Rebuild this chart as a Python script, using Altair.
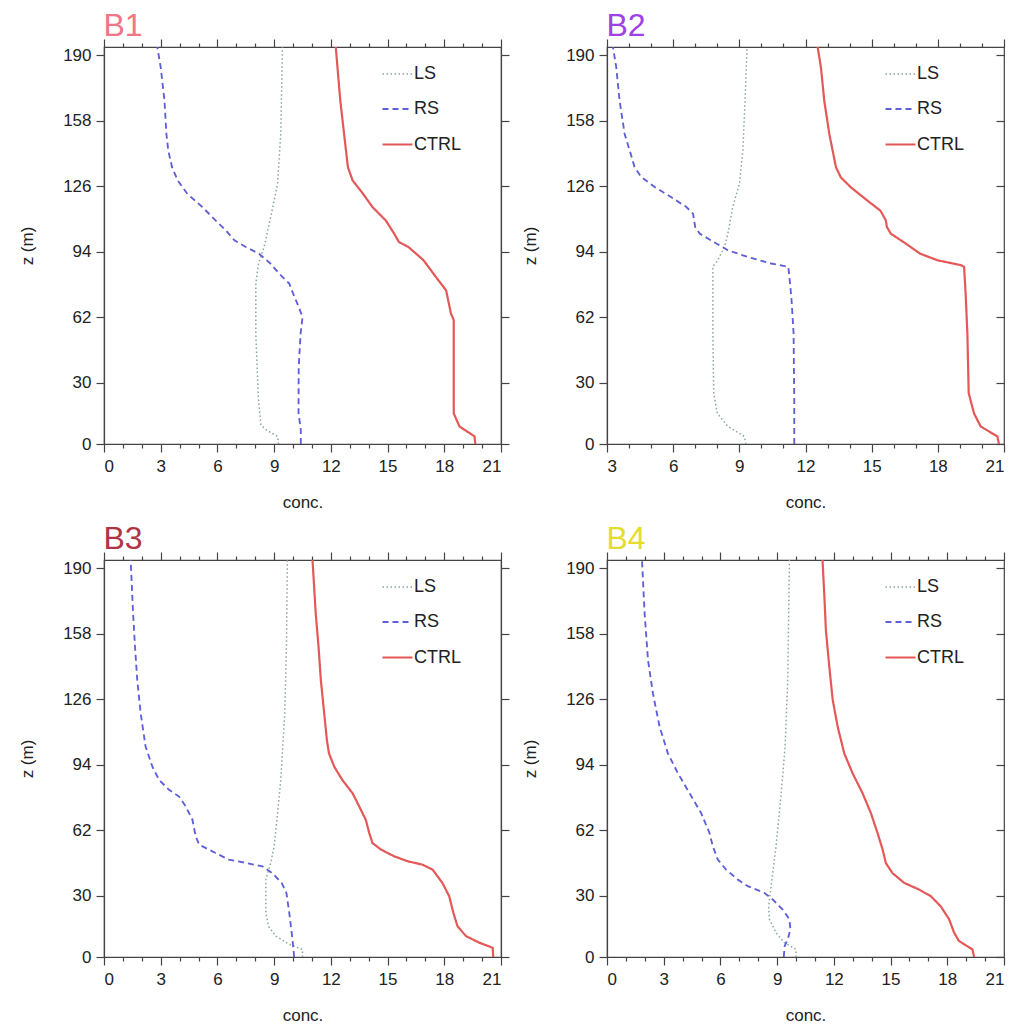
import altair as alt
import pandas as pd

SERIES = ["LS", "RS", "CTRL"]
COLORS = ["#86a89a", "#5f5fd8", "#e45858"]
DASHES = [[1.5, 2.5], [6, 4], [1, 0]]
WIDTHS = [1.5, 2.2, 2.0]
YTICKS = [0, 30, 62, 94, 126, 158, 190]
TITLES = ["B1", "B2", "B3", "B4"]
TITLE_COLORS = ["#f07585", "#a040e6", "#b03444", "#e6dc2a"]
XMINS = [0, 3, 0, 0]

# ---- B1 ----
B1_z_ctrl = [0, 3.7, 8.6, 15, 22, 40, 60.6, 63.8, 75, 81.7, 89.8, 96.3, 98.7, 102.8, 109.3, 115.8, 122.3, 128.8, 135.3, 143.4, 151.5, 167.8, 184, 194]
B1_ctrl = [19.64, 19.6, 18.8, 18.5, 18.5, 18.5, 18.5, 18.35, 18.1, 17.55, 16.9, 16.1, 15.6, 15.35, 14.9, 14.2, 13.7, 13.15, 12.9, 12.8, 12.7, 12.5, 12.35, 12.26]
B1_z_rs = [0, 7, 15, 37.8, 54, 62, 67, 73.6, 78.4, 83.3, 88.2, 93, 96.3, 99.5, 104.4, 109.3, 115.8, 122.3, 128.8, 135.3, 143.4, 151.5, 167.8, 184, 194]
B1_rs = [10.41, 10.41, 10.29, 10.3, 10.4, 10.5, 10.3, 10.0, 9.8, 9.26, 8.8, 8.2, 7.5, 6.9, 6.44, 5.9, 5.2, 4.4, 3.9, 3.6, 3.4, 3.3, 3.2, 3.0, 2.82]
B1_z_ls = [0, 3.7, 7, 9.4, 21.6, 54, 78.4, 88, 96.3, 111, 127, 151.5, 194]
B1_ls = [9.23, 9.18, 8.56, 8.3, 8.17, 8.03, 8.03, 8.17, 8.47, 8.82, 9.18, 9.35, 9.44]

# ---- B2 ----
B2_z_ctrl = [0, 3.7, 8.6, 15, 24.8, 54, 73.6, 86.6, 87.4, 89.8, 93, 97.9, 102.8, 106, 109.3, 114, 119, 125.4, 130.3, 135.3, 143.4, 151.5, 167.8, 184, 194]
B2_ctrl = [20.77, 20.7, 19.94, 19.64, 19.4, 19.34, 19.26, 19.19, 19.04, 17.98, 17.2, 16.55, 15.87, 15.69, 15.64, 15.4, 14.8, 14.06, 13.6, 13.38, 13.23, 13.08, 12.85, 12.7, 12.55]
B2_z_rs = [0, 21.6, 54, 70, 78.4, 86.6, 88.2, 91.4, 94.7, 99.5, 102.8, 106, 112.6, 115.8, 120.7, 125.6, 130.5, 135.3, 143.4, 151.5, 167.8, 184, 194]
B2_rs = [11.49, 11.49, 11.46, 11.37, 11.3, 11.22, 10.44, 9.38, 8.48, 7.72, 7.2, 7.0, 6.9, 6.6, 5.9, 5.16, 4.55, 4.25, 4.03, 3.8, 3.57, 3.42, 3.27]
B2_z_ls = [0, 3.7, 8.6, 15, 24.8, 54, 86.6, 89.8, 96.3, 102.8, 115.8, 127, 143.4, 167.8, 194]
B2_ls = [9.3, 9.23, 8.48, 8.0, 7.84, 7.8, 7.8, 8.02, 8.33, 8.48, 8.7, 9.0, 9.16, 9.26, 9.35]

# ---- B3 ----
B3_z_ctrl = [0, 4.5, 7, 10.2, 15, 21.6, 29.7, 36.2, 42.7, 45.1, 46.8, 49.2, 52.5, 55.7, 60.6, 67, 73.6, 80, 86.6, 93, 99.5, 106, 119, 135.3, 151.5, 167.8, 194]
B3_ctrl = [20.59, 20.56, 19.85, 19.15, 18.7, 18.48, 18.26, 17.9, 17.38, 16.85, 16.06, 15.35, 14.65, 14.2, 14.03, 13.85, 13.5, 13.15, 12.6, 12.18, 11.9, 11.79, 11.65, 11.47, 11.35, 11.2, 11.03]
B3_z_rs = [0, 8.6, 21.6, 31.3, 36.2, 41, 44.3, 46, 47.6, 50.8, 54.9, 58.9, 67, 73.6, 78.4, 81.7, 86.6, 93, 102.8, 119, 135.3, 151.5, 167.8, 194]
B3_rs = [10.06, 9.97, 9.8, 9.65, 9.4, 8.9, 8.38, 7.5, 6.6, 5.9, 5.03, 4.85, 4.68, 4.32, 3.97, 3.44, 2.91, 2.56, 2.2, 1.94, 1.76, 1.64, 1.54, 1.41]
B3_z_ls = [0, 3.7, 6.2, 10.2, 15, 21.6, 37.8, 46, 54, 70, 86.6, 119, 151.5, 194]
B3_ls = [10.5, 10.5, 9.8, 9.09, 8.7, 8.56, 8.56, 8.82, 9.0, 9.18, 9.35, 9.56, 9.65, 9.7]

# ---- B4 ----
B4_z_ctrl = [0, 3.7, 7.8, 11.9, 18.4, 24.8, 29.7, 33, 36.2, 41, 45.9, 52.5, 60.6, 70.3, 80, 89.8, 99.5, 112.6, 125.6, 141.8, 159.6, 175.9, 194]
B4_ctrl = [19.42, 19.33, 18.62, 18.36, 18.1, 17.65, 17.13, 16.5, 15.72, 15.1, 14.75, 14.58, 14.31, 13.96, 13.52, 12.99, 12.55, 12.2, 11.94, 11.76, 11.58, 11.5, 11.4]
B4_z_rs = [0, 5.4, 8.6, 13.5, 18.4, 23.2, 28.1, 31.3, 34.6, 37.8, 42.7, 47.6, 54, 60.6, 70.3, 80, 89.8, 99.5, 112.6, 128.8, 145, 167.8, 194]
B4_rs = [9.35, 9.4, 9.56, 9.7, 9.65, 9.29, 8.77, 8.33, 7.45, 6.92, 6.3, 5.86, 5.6, 5.42, 4.98, 4.37, 3.75, 3.22, 2.78, 2.43, 2.17, 1.99, 1.85]
B4_z_ls = [0, 3.7, 7, 11.9, 18.4, 24.8, 34.6, 54, 78.4, 102.8, 135.3, 167.8, 194]
B4_ls = [10.0, 10.0, 9.38, 8.94, 8.59, 8.55, 8.68, 8.94, 9.2, 9.42, 9.56, 9.61, 9.65]

PANEL_DATA = [
    {"LS": (B1_z_ls, B1_ls), "RS": (B1_z_rs, B1_rs), "CTRL": (B1_z_ctrl, B1_ctrl)},
    {"LS": (B2_z_ls, B2_ls), "RS": (B2_z_rs, B2_rs), "CTRL": (B2_z_ctrl, B2_ctrl)},
    {"LS": (B3_z_ls, B3_ls), "RS": (B3_z_rs, B3_rs), "CTRL": (B3_z_ctrl, B3_ctrl)},
    {"LS": (B4_z_ls, B4_ls), "RS": (B4_z_rs, B4_rs), "CTRL": (B4_z_ctrl, B4_ctrl)},
]

FONT = "Liberation Sans"


def make_panel(name, tcolor, xmin, data, right_col):
    rows = []
    for s, (zs, cs) in data.items():
        for i, (z, c) in enumerate(zip(zs, cs)):
            rows.append({"series": s, "z": z, "conc": c, "idx": i})
    df = pd.DataFrame(rows)
    xscale = alt.Scale(domain=[xmin, 21], nice=False, zero=False)
    yscale = alt.Scale(domain=[0, 194], nice=False, zero=False)
    xvals = list(range(xmin, 22))
    tick_cond = {"condition": {"test": "datum.value % 3 === 0", "value": 8}, "value": 4}
    legend = alt.Legend(
        orient="none", legendX=277, legendY=11, title=None,
        symbolType="stroke", symbolSize=900, symbolStrokeWidth=2,
        labelFontSize=18, labelFont=FONT, labelColor="#222",
        rowPadding=10, labelOffset=0,
    )
    lines = alt.Chart(df).mark_line(clip=True).encode(
        x=alt.X("conc:Q", scale=xscale,
                axis=alt.Axis(orient="bottom", values=xvals,
                              labelExpr="datum.value % 3 === 0 ? datum.label : ''",
                              tickSize=tick_cond, title="conc.",
                              labelPadding=6, titlePadding=20)),
        y=alt.Y("z:Q", scale=yscale,
                axis=alt.Axis(orient="left", values=YTICKS, tickSize=8,
                              labelPadding=5, title="z (m)", titlePadding=26)),
        color=alt.Color("series:N", scale=alt.Scale(domain=SERIES, range=COLORS), legend=legend),
        strokeDash=alt.StrokeDash("series:N", scale=alt.Scale(domain=SERIES, range=DASHES), legend=legend),
        strokeWidth=alt.StrokeWidth("series:N", scale=alt.Scale(domain=SERIES, range=WIDTHS), legend=None),
        order="idx:Q",
    )
    if right_col:
        right_axis = alt.Axis(orient="right", values=YTICKS, labels=False, tickSize=8,
                              title=None, domain=False, offset=-8)
    else:
        right_axis = alt.Axis(orient="right", values=YTICKS, labels=False, tickSize=8, title=None)
    top_axis = alt.Axis(
        orient="top", values=xvals, labels=False, tickSize=tick_cond,
        title=name, titleColor=tcolor, titleFontSize=32, titleFont=FONT,
        titleFontWeight="normal", titleAnchor="start", titleAlign="left",
        titleBaseline="alphabetic", titleAngle=0, titleX=-1, titleY=-12,
    )
    mirror = alt.Chart(df).mark_line(opacity=0).encode(
        x=alt.X("conc:Q", scale=xscale, axis=top_axis),
        y=alt.Y("z:Q", scale=yscale, axis=right_axis),
        order="idx:Q",
    )
    return alt.layer(lines, mirror).resolve_axis(x="independent", y="independent").properties(
        width=397, height=397,
    )


panels = [make_panel(TITLES[i], TITLE_COLORS[i], XMINS[i], PANEL_DATA[i], i % 2 == 1) for i in range(4)]

chart = alt.concat(*panels, columns=2, spacing={"row": 10, "column": 10}).resolve_scale(
    x="independent", y="independent", color="independent",
    strokeDash="independent", strokeWidth="independent",
).resolve_legend(color="independent", strokeDash="independent").properties(
    padding={"left": 10, "top": 0, "right": 1, "bottom": 0}
).configure_axis(
    domainColor="#444", tickColor="#444", labelFont=FONT, titleFont=FONT,
    labelFontSize=17, titleFontSize=17, labelColor="#222", titleColor="#222",
    titleFontWeight="normal", grid=False, domainWidth=1.2, tickWidth=1.2,
).configure_view(stroke="#444", strokeWidth=1.2)

chart.save("out.html", embed_options={"renderer": "svg", "actions": False})
